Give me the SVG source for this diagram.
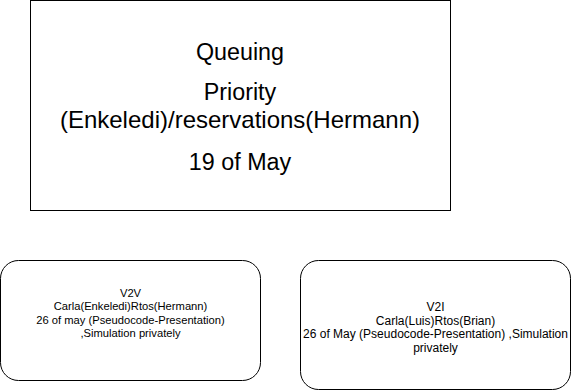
<svg xmlns="http://www.w3.org/2000/svg" width="571" height="391" viewBox="0 0 571 391">
  <style>
    .box { fill: #ffffff; stroke: #000000; stroke-width: 1; }
    .lbl { font-family: "Liberation Sans", Arial, Helvetica, sans-serif; fill: #000000; text-anchor: middle; }
    .big { font-size: 23.3px; }
    .wide { font-size: 24px; }
    .sm { font-size: 11.2px; }
    .md { font-size: 12px; }
  </style>
  <rect width="571" height="391" fill="#ffffff"/>

  <!-- main topic box -->
  <g id="queuing">
    <rect class="box" x="30.5" y="0.5" width="420" height="210"/>
    <text class="lbl big" x="240" y="60">Queuing</text>
    <text class="lbl big" x="240" y="100">Priority</text>
    <text class="lbl wide" x="240" y="128">(Enkeledi)/reservations(Hermann)</text>
    <text class="lbl big" x="240" y="170">19 of May</text>
  </g>

  <!-- vehicle-to-vehicle task -->
  <g id="v2v">
    <rect class="box" x="0.5" y="260.5" width="260" height="120" rx="18" ry="18"/>
    <text class="lbl sm" x="130.5" y="296.5">V2V</text>
    <text class="lbl sm" x="130.5" y="310">Carla(Enkeledi)Rtos(Hermann)</text>
    <text class="lbl sm" x="130.5" y="323.5">26 of may (Pseudocode-Presentation)</text>
    <text class="lbl sm" x="130.5" y="337">,Simulation privately</text>
  </g>

  <!-- vehicle-to-infrastructure task -->
  <g id="v2i">
    <rect class="box" x="300.5" y="260.5" width="270" height="129" rx="18" ry="18"/>
    <text class="lbl md" x="435.5" y="311">V2I</text>
    <text class="lbl md" x="435.5" y="324.5">Carla(Luis)Rtos(Brian)</text>
    <text class="lbl md" x="435.5" y="338">26 of May (Pseudocode-Presentation) ,Simulation</text>
    <text class="lbl md" x="435.5" y="351.5">privately</text>
  </g>

  <g id="connectors"></g>
</svg>
